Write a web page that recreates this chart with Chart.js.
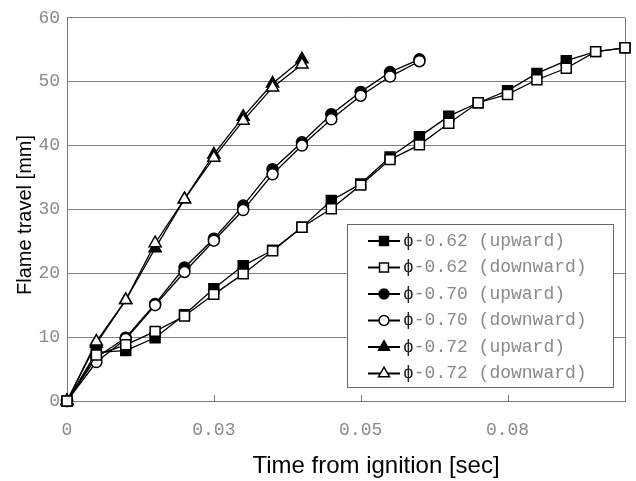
<!DOCTYPE html>
<html>
<head>
<meta charset="utf-8">
<title>Flame travel</title>
<script src="https://cdn.jsdelivr.net/npm/chart.js@4.4.0/dist/chart.umd.min.js"></script>
<style>
    html, body { margin: 0; padding: 0; background: #fff; }
    #wrap { width: 636px; height: 481px; }
</style>
</head>
<body>
<div id="wrap"><canvas id="flameChart" width="636" height="481"></canvas></div>
<script>
// tiempos de cada cuadro (s)
const tiempos = [0, 0.005, 0.01, 0.015, 0.02, 0.025, 0.03, 0.035, 0.04, 0.045,
                 0.05, 0.055, 0.06, 0.065, 0.07, 0.075, 0.08, 0.085, 0.09, 0.095];

// recorrido de la llama (mm)
const phi062Up   = [0, 7.6, 7.9, 9.9, 13.5, 17.6, 21.2, 23.6, 27.2, 31.4, 34.0, 38.2, 41.4, 44.6, 46.7, 48.6, 51.3, 53.3, 54.7, 55.3];
const phi062Down = [0, 7.2, 8.8, 10.9, 13.3, 16.7, 19.9, 23.5, 27.2, 30.1, 33.8, 37.8, 40.1, 43.5, 46.7, 48.0, 50.3, 52.1, 54.7, 55.3];
const phi070Up   = [0, 6.8, 9.9, 15.2, 20.9, 25.4, 30.6, 36.3, 40.5, 44.9, 48.4, 51.5, 53.5];
const phi070Down = [0, 6.1, 9.7, 15.0, 20.2, 25.1, 29.9, 35.5, 40.0, 44.1, 47.8, 50.8, 53.2];
const phi072Up   = [0, 9.0, 15.8, 23.9, 31.6, 38.6, 44.5, 49.7, 53.5];
const phi072Down = [0, 9.3, 15.8, 24.7, 31.6, 38.1, 43.9, 49.1, 52.7];

const etiquetas = ['\u03d5-0.62 (upward)', '\u03d5-0.62 (downward)',
                   '\u03d5-0.70 (upward)', '\u03d5-0.70 (downward)',
                   '\u03d5-0.72 (upward)', '\u03d5-0.72 (downward)'];

const xTickValues = [0, 0.025, 0.05, 0.075];
const xTickLabels = ['0', '0.03', '0.05', '0.08'];
const tituloX = 'Time from ignition [sec]';
const tituloY = 'Flame travel [mm]';

const MONO = "'Liberation Mono', 'DejaVu Sans Mono', monospace";
const SANS = "'Liberation Sans', Arial, sans-serif";
const GRIS = '#8a8a8a';

function puntos(valores) {
    return valores.map((v, i) => ({ x: tiempos[i], y: v }));
}

function serie(label, valores, estilo, relleno, radio, orden) {
    return {
        label: label,
        data: puntos(valores),
        borderColor: '#000',
        borderWidth: 1.3,
        pointStyle: estilo,
        pointRadius: radio,
        pointHoverRadius: radio,
        pointBackgroundColor: relleno,
        pointBorderColor: '#000',
        pointBorderWidth: 1.5,
        tension: 0,
        fill: false,
        clip: false,
        order: orden
    };
}

function dibujarMarcador(ctx, ds, x, y, radio) {
    ctx.save();
    ctx.fillStyle = ds.pointBackgroundColor;
    ctx.strokeStyle = ds.pointBorderColor;
    ctx.lineWidth = ds.pointBorderWidth;
    Chart.helpers.drawPoint(ctx, { pointStyle: ds.pointStyle, radius: radio, rotation: 0, borderWidth: ds.pointBorderWidth }, x, y);
    ctx.restore();
}

const marcoPlugin = {
    id: 'marco',
    beforeDatasetsDraw(chart) {
        const ctx = chart.ctx;
        const area = chart.chartArea;
        const xScale = chart.scales.x;
        ctx.save();
        ctx.strokeStyle = '#777';
        ctx.lineWidth = 1;
        // borde derecho
        ctx.beginPath();
        ctx.moveTo(area.right + 0.5, area.top);
        ctx.lineTo(area.right + 0.5, area.bottom);
        ctx.stroke();
        // marcas hacia adentro en el eje x
        xTickValues.slice(1).forEach(v => {
            const px = Math.round(xScale.getPixelForValue(v)) + 0.5;
            ctx.beginPath();
            ctx.moveTo(px, area.bottom);
            ctx.lineTo(px, area.bottom - 6);
            ctx.stroke();
        });
        ctx.restore();
    },
    afterDraw(chart) {
        const ctx = chart.ctx;
        const area = chart.chartArea;
        ctx.save();

        // titulos de ejes
        ctx.fillStyle = '#000';
        ctx.textAlign = 'center';
        ctx.textBaseline = 'middle';
        ctx.font = '24px ' + SANS;
        ctx.fillText(tituloX, 376, 466);
        ctx.save();
        ctx.translate(25, 215);
        ctx.rotate(-Math.PI / 2);
        ctx.font = '20px ' + SANS;
        ctx.fillText(tituloY, 0, 0);
        ctx.restore();

        // leyenda
        const left = area.right - 278, top = area.bottom - 177;
        const width = 266, height = 163;
        ctx.fillStyle = '#fff';
        ctx.fillRect(left, top, width, height);
        ctx.strokeStyle = '#666';
        ctx.lineWidth = 1;
        ctx.strokeRect(left + 0.5, top + 0.5, width, height);

        ctx.font = '18px ' + MONO;
        ctx.textAlign = 'left';
        chart.data.datasets.forEach((ds, i) => {
            const y = top + 17 + i * 26.5;
            ctx.strokeStyle = '#000';
            ctx.lineWidth = 2;
            ctx.beginPath();
            ctx.moveTo(left + 21, y);
            ctx.lineTo(left + 53, y);
            ctx.stroke();
            dibujarMarcador(ctx, ds, left + 37, y, ds.pointRadius * 0.9);
            const texto = etiquetas[i];
            ctx.fillStyle = '#222';
            ctx.fillText(texto.charAt(0), left + 56, y);
            const w = ctx.measureText(texto.charAt(0)).width;
            ctx.fillStyle = GRIS;
            ctx.fillText(texto.slice(1), left + 56 + w, y);
        });
        ctx.restore();
    }
};

const ctx = document.getElementById('flameChart').getContext('2d');

new Chart(ctx, {
    type: 'line',
    data: {
        datasets: [
            serie(etiquetas[0], phi062Up, 'rect', '#000', 7, 1),
            serie(etiquetas[1], phi062Down, 'rect', '#fff', 7, 0),
            serie(etiquetas[2], phi070Up, 'circle', '#000', 5.5, 1),
            serie(etiquetas[3], phi070Down, 'circle', '#fff', 5.5, 0),
            serie(etiquetas[4], phi072Up, 'triangle', '#000', 7, 1),
            serie(etiquetas[5], phi072Down, 'triangle', '#fff', 7, 0)
        ]
    },
    options: {
        responsive: false,
        animation: false,
        devicePixelRatio: 1,
        layout: {
            padding: { top: 13, right: 11, left: 0, bottom: 0 }
        },
        scales: {
            x: {
                type: 'linear',
                min: 0,
                max: 0.095,
                afterBuildTicks: axis => {
                    axis.ticks = xTickValues.map(v => ({ value: v }));
                },
                afterFit: scale => { scale.height = 80; },
                ticks: {
                    callback: (value, index) => xTickLabels[index],
                    color: GRIS,
                    font: { family: MONO, size: 18 },
                    padding: 18,
                    maxRotation: 0
                },
                grid: { drawOnChartArea: false, drawTicks: false },
                border: { color: '#777', width: 1 }
            },
            y: {
                min: 0,
                max: 60,
                afterFit: scale => { scale.width = 67; },
                ticks: {
                    stepSize: 10,
                    color: GRIS,
                    font: { family: MONO, size: 18 },
                    padding: 7
                },
                grid: { color: '#808080', lineWidth: 1, drawTicks: false },
                border: { color: '#777', width: 1 }
            }
        },
        plugins: {
            legend: { display: false },
            tooltip: { enabled: false }
        }
    },
    plugins: [marcoPlugin]
});
</script>
</body>
</html>
